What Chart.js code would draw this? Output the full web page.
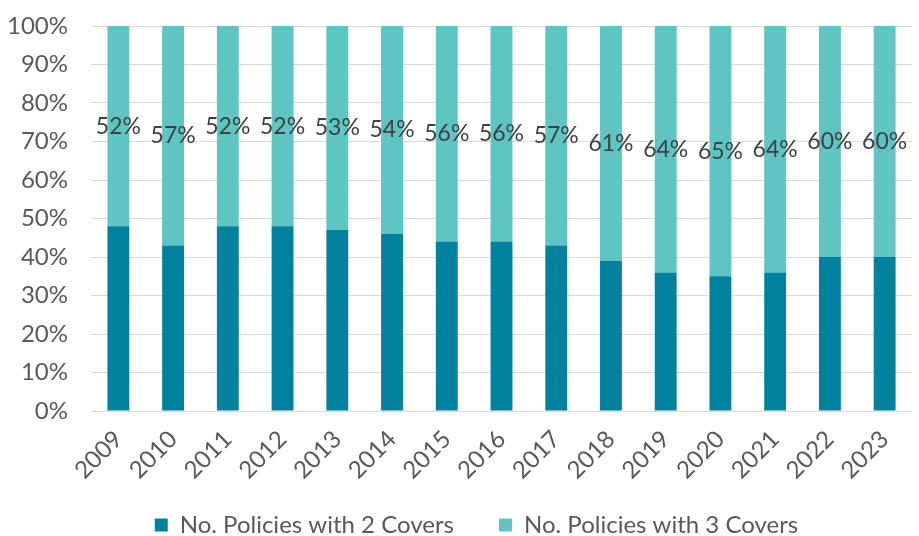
<!DOCTYPE html>
<html>
<head>
<meta charset="utf-8">
<script src="https://cdn.jsdelivr.net/npm/chart.js@4/dist/chart.umd.min.js"></script>
<style>
  html, body { margin: 0; padding: 0; background: #fff; }
  #wrap { width: 919px; height: 536px; }
</style>
</head>
<body>
<div id="wrap"><canvas id="coverChart"></canvas></div>
<script>
// years and share of policies per cover count (%)
const years = ['2009', '2010', '2011', '2012', '2013', '2014', '2015', '2016', '2017', '2018', '2019', '2020', '2021', '2022', '2023'];
const twoCovers = [48, 43, 48, 48, 47, 46, 44, 44, 43, 39, 36, 35, 36, 40, 40];
const threeCovers = [52, 57, 52, 52, 53, 54, 56, 56, 57, 61, 64, 65, 64, 60, 60];
const yTicks = [0, 10, 20, 30, 40, 50, 60, 70, 80, 90, 100];

const FONT = "Lato, 'Noto Sans', sans-serif";

// percentage labels centred on the 3-cover segments
const segmentLabels = {
    id: 'segmentLabels',
    afterDatasetsDraw(chart) {
        const ctx = chart.ctx;
        const meta = chart.getDatasetMeta(1);
        ctx.save();
        ctx.font = '23px ' + FONT;
        ctx.fillStyle = '#404040';
        ctx.textAlign = 'center';
        ctx.textBaseline = 'middle';
        meta.data.forEach((bar, i) => {
            const yMid = (bar.y + bar.base) / 2;
            ctx.fillText(threeCovers[i] + '%', bar.x, yMid);
        });
        ctx.restore();
    }
};

// the year labels hang below the short x box, so widen its clip,
// and move the legend row a little lower and to the right
const layoutTweaks = {
    id: 'layoutTweaks',
    afterLayout(chart) {
        chart.scales.x.bottom = chart.height;
        const lg = chart.legend;
        if (lg) {
            lg.top += 11;
            lg.bottom += 11;
            lg.left += 17;
            lg.right += 17;
        }
    }
};

new Chart(document.getElementById('coverChart'), {
    type: 'bar',
    data: {
        labels: years,
        datasets: [{
            label: 'No. Policies with 2 Covers',
            data: twoCovers,
            backgroundColor: '#00829f',
            barPercentage: 0.4,
            categoryPercentage: 1
        }, {
            label: 'No. Policies with 3 Covers',
            data: threeCovers,
            backgroundColor: '#5ec5c2',
            barPercentage: 0.4,
            categoryPercentage: 1
        }]
    },
    options: {
        responsive: true,
        maintainAspectRatio: false,
        animation: false,
        layout: { padding: 0 },
        plugins: {
            legend: {
                position: 'bottom',
                labels: {
                    boxWidth: 13,
                    boxHeight: 13,
                    padding: 45,
                    color: '#595959',
                    font: { family: FONT, size: 24 }
                }
            },
            tooltip: { enabled: false }
        },
        scales: {
            x: {
                stacked: true,
                grid: { display: false, drawTicks: false },
                border: { display: false },
                ticks: {
                    color: '#595959',
                    font: { family: FONT, size: 24 },
                    maxRotation: 45,
                    minRotation: 45,
                    padding: 14
                },
                afterFit(scale) { scale.height = 46; }
            },
            y: {
                stacked: true,
                min: 0,
                max: 100,
                afterBuildTicks(scale) { scale.ticks = yTicks.map(v => ({ value: v })); },
                grid: { color: '#d9d9d9', lineWidth: 1, drawTicks: false },
                border: { display: false },
                ticks: {
                    color: '#595959',
                    font: { family: FONT, size: 24 },
                    padding: 23,
                    callback: v => v + '%'
                },
                afterFit(scale) {
                    scale.width = 91;
                    scale.paddingTop = 26;
                    scale.paddingBottom = 0;
                }
            }
        }
    },
    plugins: [segmentLabels, layoutTweaks]
});
</script>
</body>
</html>
